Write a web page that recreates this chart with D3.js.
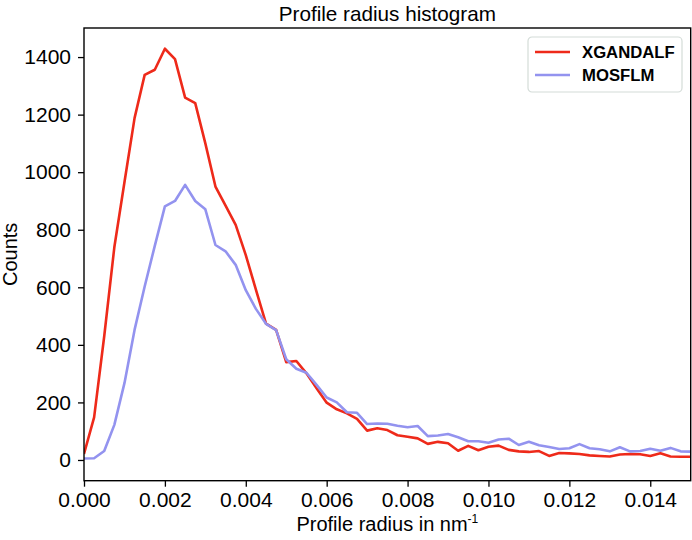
<!DOCTYPE html>
<html>
<head>
<meta charset="utf-8">
<script src="https://cdn.jsdelivr.net/npm/d3@7"></script>
<style>
  body { margin: 0; background: #fff; }
  text { font-family: "Liberation Sans", Arial, Helvetica, sans-serif; }
</style>
</head>
<body>
<div id="chart"></div>
<script>
// radius bins, step 0.00025 nm^-1
const binStep = 0.00025;
const xgandalf = [21, 148, 430, 739, 965, 1188, 1338, 1356, 1429, 1393, 1259, 1240, 1100, 950, 884,
  817, 712, 592, 474, 452, 340, 344, 301, 249, 199, 176, 162, 143, 102, 110, 104, 86, 81, 75, 56,
  63, 58, 32, 49, 34, 46, 50, 35, 30, 28, 31, 14, 24, 23, 21, 16, 14, 12, 19, 21, 20, 14, 23, 12, 11, 11];
const mosflm = [5, 6, 31, 122, 267, 452, 603, 744, 881, 900, 956, 900, 871, 747, 725,
  678, 590, 525, 473, 451, 350, 317, 303, 261, 217, 200, 166, 164, 125, 127, 126, 119, 114, 118, 83,
  85, 90, 79, 65, 65, 60, 71, 74, 52, 63, 51, 45, 38, 41, 55, 41, 37, 30, 44, 30, 31, 39, 32, 42, 30, 29];
const seriesNames = ["XGANDALF", "MOSFLM"];
const xTicks = [0, 0.002, 0.004, 0.006, 0.008, 0.010, 0.012, 0.014];
const yTicks = [0, 200, 400, 600, 800, 1000, 1200, 1400];

const width = 692, height = 540;
const margin = { top: 28, right: 1.3, bottom: 59.3, left: 84 };
const colors = ["#ee2a1a", "#9393ef"];

const svg = d3.select("#chart").append("svg")
  .attr("width", width)
  .attr("height", height);

const x = d3.scaleLinear()
  .domain([0, 0.015])
  .range([margin.left, width - margin.right]);

const y = d3.scaleLinear()
  .domain([-72, 1501])
  .range([height - margin.bottom, margin.top]);

// clip lines to the axes box
svg.append("clipPath").attr("id", "clip")
  .append("rect")
  .attr("x", margin.left).attr("y", margin.top)
  .attr("width", width - margin.left - margin.right)
  .attr("height", height - margin.top - margin.bottom);

const line = d3.line()
  .x((d, i) => x(i * binStep))
  .y(d => y(d));

[xgandalf, mosflm].forEach((s, k) => {
  svg.append("path")
    .datum(s)
    .attr("clip-path", "url(#clip)")
    .attr("fill", "none")
    .attr("stroke", colors[k])
    .attr("stroke-width", 2.6)
    .attr("stroke-linejoin", "round")
    .attr("d", line);
});

// axes
const xAxis = svg.append("g")
  .attr("transform", `translate(0,${height - margin.bottom})`)
  .call(d3.axisBottom(x).tickValues(xTicks).tickFormat(d3.format(".3f")).tickSizeOuter(0).tickSize(6).tickPadding(5));

const yAxis = svg.append("g")
  .attr("transform", `translate(${margin.left},0)`)
  .call(d3.axisLeft(y).tickValues(yTicks).tickFormat(d3.format("d")).tickSizeOuter(0).tickSize(6).tickPadding(7));

[xAxis, yAxis].forEach(a => {
  a.select(".domain").remove();
  a.selectAll(".tick line").attr("stroke", "#000").attr("stroke-width", 1.3);
  a.selectAll(".tick text")
    .attr("fill", "#000")
    .style("font-size", "21px")
    .style("font-family", "'Liberation Sans', Arial, sans-serif");
});

// frame
svg.append("rect")
  .attr("x", margin.left).attr("y", margin.top)
  .attr("width", width - margin.left - margin.right)
  .attr("height", height - margin.top - margin.bottom)
  .attr("fill", "none")
  .attr("stroke", "#000")
  .attr("stroke-width", 1.4);

// title and labels
svg.append("text")
  .attr("x", (margin.left + width - margin.right) / 2)
  .attr("y", 21)
  .attr("text-anchor", "middle")
  .style("font-size", "20.7px")
  .text("Profile radius histogram");

const xl = svg.append("text")
  .attr("x", (margin.left + width - margin.right) / 2)
  .attr("y", 531)
  .attr("text-anchor", "middle")
  .style("font-size", "20px");
xl.append("tspan").text("Profile radius in nm");
xl.append("tspan").attr("dy", -8).style("font-size", "12px").text("-1");

svg.append("text")
  .attr("transform", `translate(17,${(margin.top + height - margin.bottom) / 2}) rotate(-90)`)
  .attr("text-anchor", "middle")
  .style("font-size", "20px")
  .text("Counts");

// legend
const lg = svg.append("g").attr("transform", "translate(528,37)");
lg.append("rect")
  .attr("width", 154).attr("height", 55)
  .attr("rx", 4)
  .attr("fill", "#fff")
  .attr("stroke", "#d4dcd8")
  .attr("stroke-width", 1.2);
seriesNames.forEach((n, k) => {
  const row = lg.append("g").attr("transform", `translate(0,${15 + k * 23})`);
  row.append("line")
    .attr("x1", 7).attr("x2", 42)
    .attr("stroke", colors[k]).attr("stroke-width", 2.6);
  row.append("text")
    .attr("x", 54).attr("dy", "0.35em")
    .style("font-weight", "bold")
    .style("font-size", "16.7px")
    .text(n);
});
</script>
</body>
</html>
